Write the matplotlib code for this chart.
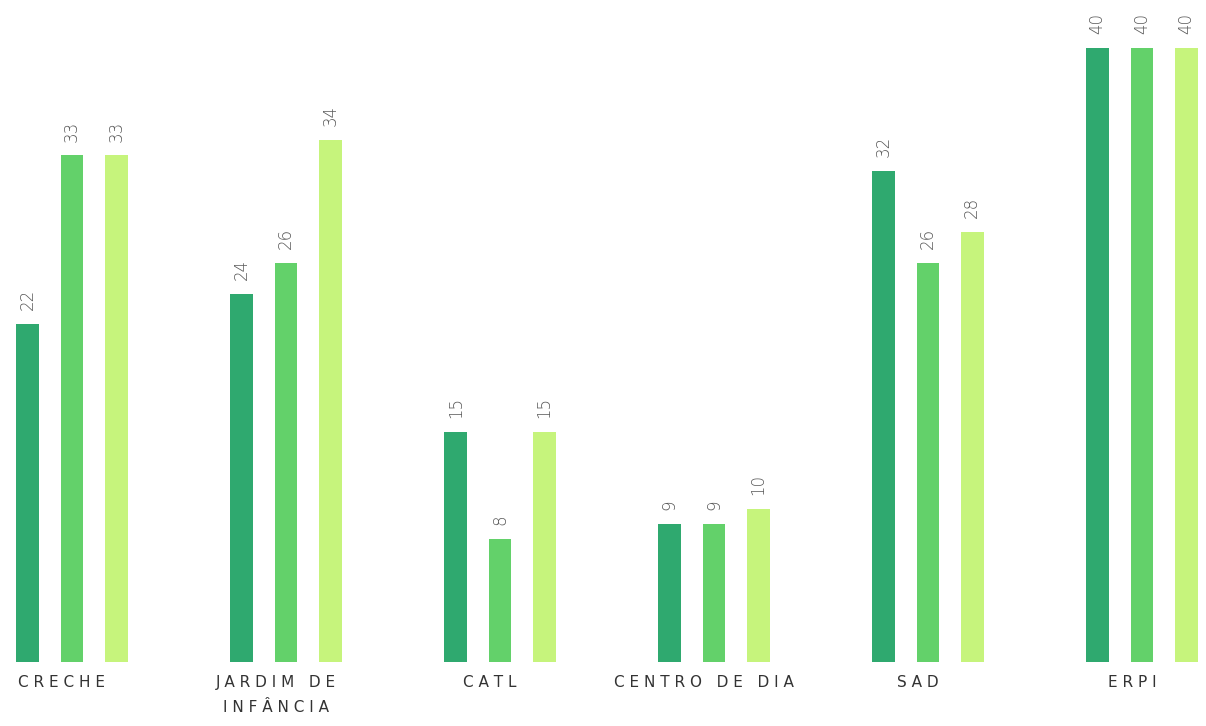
import numpy as np
import matplotlib.pyplot as plt

categorias = ['CRECHE', 'JARDIM DE\nINFÂNCIA', 'CATL', 'CENTRO DE DIA', 'SAD', 'ERPI']
serie_1 = [22, 24, 15, 9, 32, 40]
serie_2 = [33, 26, 8, 9, 26, 40]
serie_3 = [33, 34, 15, 10, 28, 40]
cores = ['#2fa96f', '#63d16a', '#c6f47c']


def espacar(txt):
    # letras espaçadas como no original
    linhas = []
    for linha in txt.split('\n'):
        palavras = [' '.join(p) for p in linha.split(' ')]
        linhas.append('   '.join(palavras))
    return '\n'.join(linhas)


fig = plt.figure(figsize=(12.06, 7.26), dpi=100)
ax = fig.add_axes([0, 1 - 662 / 726, 1, 662 / 726])

x = np.arange(len(categorias))
larg = 0.107
desl = 0.207

for i, serie in enumerate([serie_1, serie_2, serie_3]):
    pos = x + (i - 1) * desl
    ax.bar(pos, serie, width=larg, color=cores[i])
    for px, v in zip(pos, serie):
        ax.annotate(str(v), (px, v), xytext=(0, 10), textcoords='offset points',
                    rotation=90, ha='center', va='bottom', fontsize=12,
                    color='#5a5a5a', fontweight='light')

ax.set_xlim(-72 / 214, (1206 - 72) / 214)
ax.set_ylim(0, 662 / 15.35)
ax.axis('off')

for xi, cat in zip(x, categorias):
    fig.text((72 + xi * 214 - 10) / 1206, 1 - 675 / 726, espacar(cat),
             ha='center', va='top', fontsize=11, color='#333333', linespacing=1.8)

fig.savefig('out.png', dpi=100)
